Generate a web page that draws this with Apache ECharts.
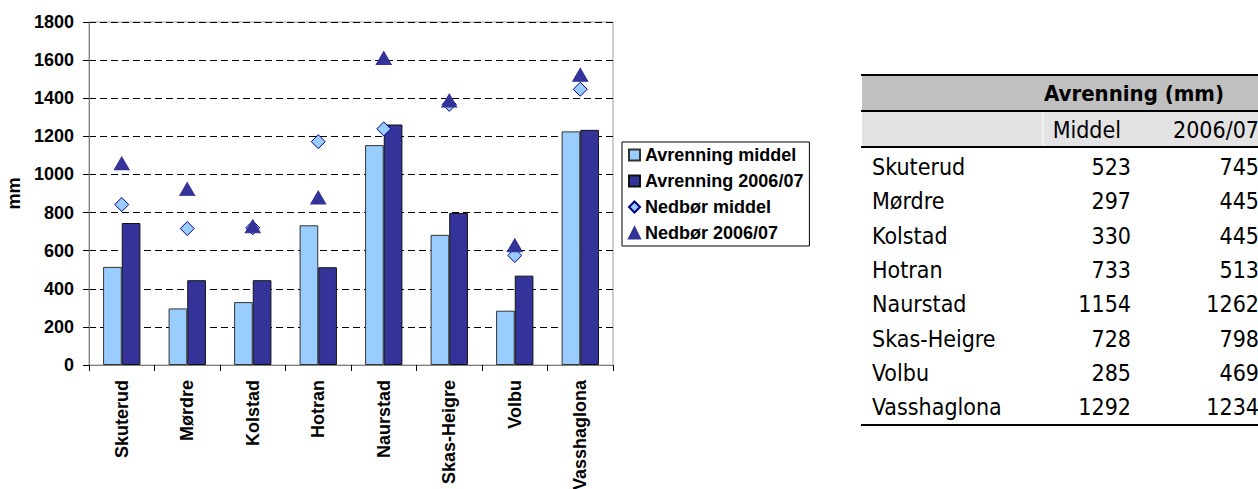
<!DOCTYPE html>
<html>
<head>
<meta charset="utf-8">
<script src="https://cdn.jsdelivr.net/npm/echarts@6/dist/echarts.min.js"></script>
<style>
  html, body { margin: 0; padding: 0; background: #fff; }
  #chart { width: 1258px; height: 489px; }
</style>
</head>
<body>
<div id="chart"></div>
<script>
// stasjoner
const categories = ['Skuterud', 'Mørdre', 'Kolstad', 'Hotran', 'Naurstad', 'Skas-Heigre', 'Volbu', 'Vasshaglona']
// avrenning (søyler), lest av figuren
const avrMiddel = [515, 297, 330, 733, 1154, 683, 285, 1226]
const avr0607 = [745, 445, 445, 513, 1262, 798, 469, 1234]
// nedbør (punkter)
const nedMiddel = [842, 716, 720, 1172, 1239, 1368, 575, 1447]
const ned0607 = [1058, 923, 728, 879, 1611, 1388, 628, 1523]
// tabellen til høyre
const tableMiddel = [523, 297, 330, 733, 1154, 728, 285, 1292]
const table0607 = [745, 445, 445, 513, 1262, 798, 469, 1234]
const yTicks = { min: 0, max: 1800, interval: 200 }

const axisFont = { fontFamily: 'Liberation Sans, Arial', fontWeight: 'bold', fontSize: 18, color: '#000' }
const tableFont = '23px "DejaVu Sans Condensed", "DejaVu Sans", sans-serif'
const headFont = 'bold 22px "DejaVu Sans Condensed", "DejaVu Sans", sans-serif'

const chart = echarts.init(document.getElementById('chart'), null, { renderer: 'svg' })

const txt = (text, x, y, align, font) => ({
  type: 'text',
  silent: true,
  style: {
    text: text, x: x, y: y,
    font: font || tableFont,
    fill: '#000',
    align: align, textAlign: align,
    verticalAlign: 'middle', textVerticalAlign: 'middle'
  }
})
const hline = (y) => ({
  type: 'line', silent: true,
  shape: { x1: 861, y1: y, x2: 1258, y2: y },
  style: { stroke: '#000', lineWidth: 2 }
})

const buildTable = () => {
  const els = []
  els.push({ type: 'rect', silent: true, shape: { x: 862, y: 75, width: 396, height: 36 }, style: { fill: '#c0c0c0' } })
  els.push({ type: 'rect', silent: true, shape: { x: 862, y: 111, width: 396, height: 36 }, style: { fill: '#e3e3e3' } })
  els.push({ type: 'line', silent: true, shape: { x1: 1043, y1: 112, x2: 1043, y2: 146 }, style: { stroke: '#fff', lineWidth: 1 } })
  els.push(hline(75), hline(111), hline(147), hline(425))
  els.push(txt('Avrenning (mm)', 1134, 93, 'center', headFont))
  els.push(txt('Middel', 1121, 130, 'right'))
  els.push(txt('2006/07', 1259, 130, 'right'))
  categories.forEach((name, i) => {
    const y = 167 + i * 34.3
    els.push(txt(name, 872, y, 'left'))
    els.push(txt(String(tableMiddel[i]), 1131, y, 'right'))
    els.push(txt(String(table0607[i]), 1259, y, 'right'))
  })
  return els
}

const options = {
  animation: false,
  backgroundColor: '#fff',
  grid: {
    left: 89, right: 645, top: 22, bottom: 124,
    outerBoundsMode: 'none',
    containLabel: false,
    show: true, borderColor: '#a0a0a0', borderWidth: 1
  },
  legend: {
    orient: 'vertical',
    left: 622, top: 142,
    padding: [4, 6, 4, 6],
    itemGap: 8,
    itemWidth: 11, itemHeight: 11,
    borderColor: '#000', borderWidth: 1,
    backgroundColor: '#fff',
    textStyle: Object.assign({}, axisFont, { lineHeight: 18 }),
    data: [
      { name: 'Avrenning middel', icon: 'rect' },
      { name: 'Avrenning 2006/07', icon: 'rect' },
      { name: 'Nedbør middel', icon: 'diamond' },
      { name: 'Nedbør 2006/07', icon: 'triangle' }
    ]
  },
  xAxis: {
    type: 'category',
    data: categories,
    axisLine: { lineStyle: { color: '#808080', width: 1 } },
    axisTick: { show: true, length: 6, lineStyle: { color: '#000' } },
    axisLabel: Object.assign({}, axisFont, { rotate: 90, interval: 0, margin: 15 })
  },
  yAxis: {
    type: 'value',
    min: yTicks.min, max: yTicks.max, interval: yTicks.interval,
    name: 'mm',
    nameLocation: 'middle',
    nameRotate: 90,
    nameGap: 66,
    nameTextStyle: axisFont,
    axisLine: { show: true, lineStyle: { color: '#808080', width: 1 } },
    axisTick: { show: true, length: 6, lineStyle: { color: '#000' } },
    axisLabel: Object.assign({}, axisFont, { margin: 15, formatter: v => String(v) }),
    splitLine: { lineStyle: { color: '#000', type: [7, 4], width: 1 } }
  },
  graphic: buildTable(),
  series: [
    {
      name: 'Avrenning middel',
      type: 'bar',
      data: avrMiddel,
      barGap: '0%',
      barCategoryGap: '43%',
      itemStyle: { color: '#99ccff', borderColor: '#333', borderWidth: 1 }
    },
    {
      name: 'Avrenning 2006/07',
      type: 'bar',
      data: avr0607,
      itemStyle: { color: '#333399', borderColor: '#111', borderWidth: 1 }
    },
    {
      name: 'Nedbør middel',
      type: 'scatter',
      data: nedMiddel,
      symbol: 'diamond',
      symbolSize: [14, 14],
      itemStyle: { color: '#99ccff', borderColor: '#000080', borderWidth: 1, opacity: 1 }
    },
    {
      name: 'Nedbør 2006/07',
      type: 'scatter',
      data: ned0607,
      symbol: 'triangle',
      symbolSize: [15, 13],
      itemStyle: { color: '#333399', borderColor: '#333399', borderWidth: 1, opacity: 1 }
    }
  ]
}
chart.setOption(options)
</script>
</body>
</html>
